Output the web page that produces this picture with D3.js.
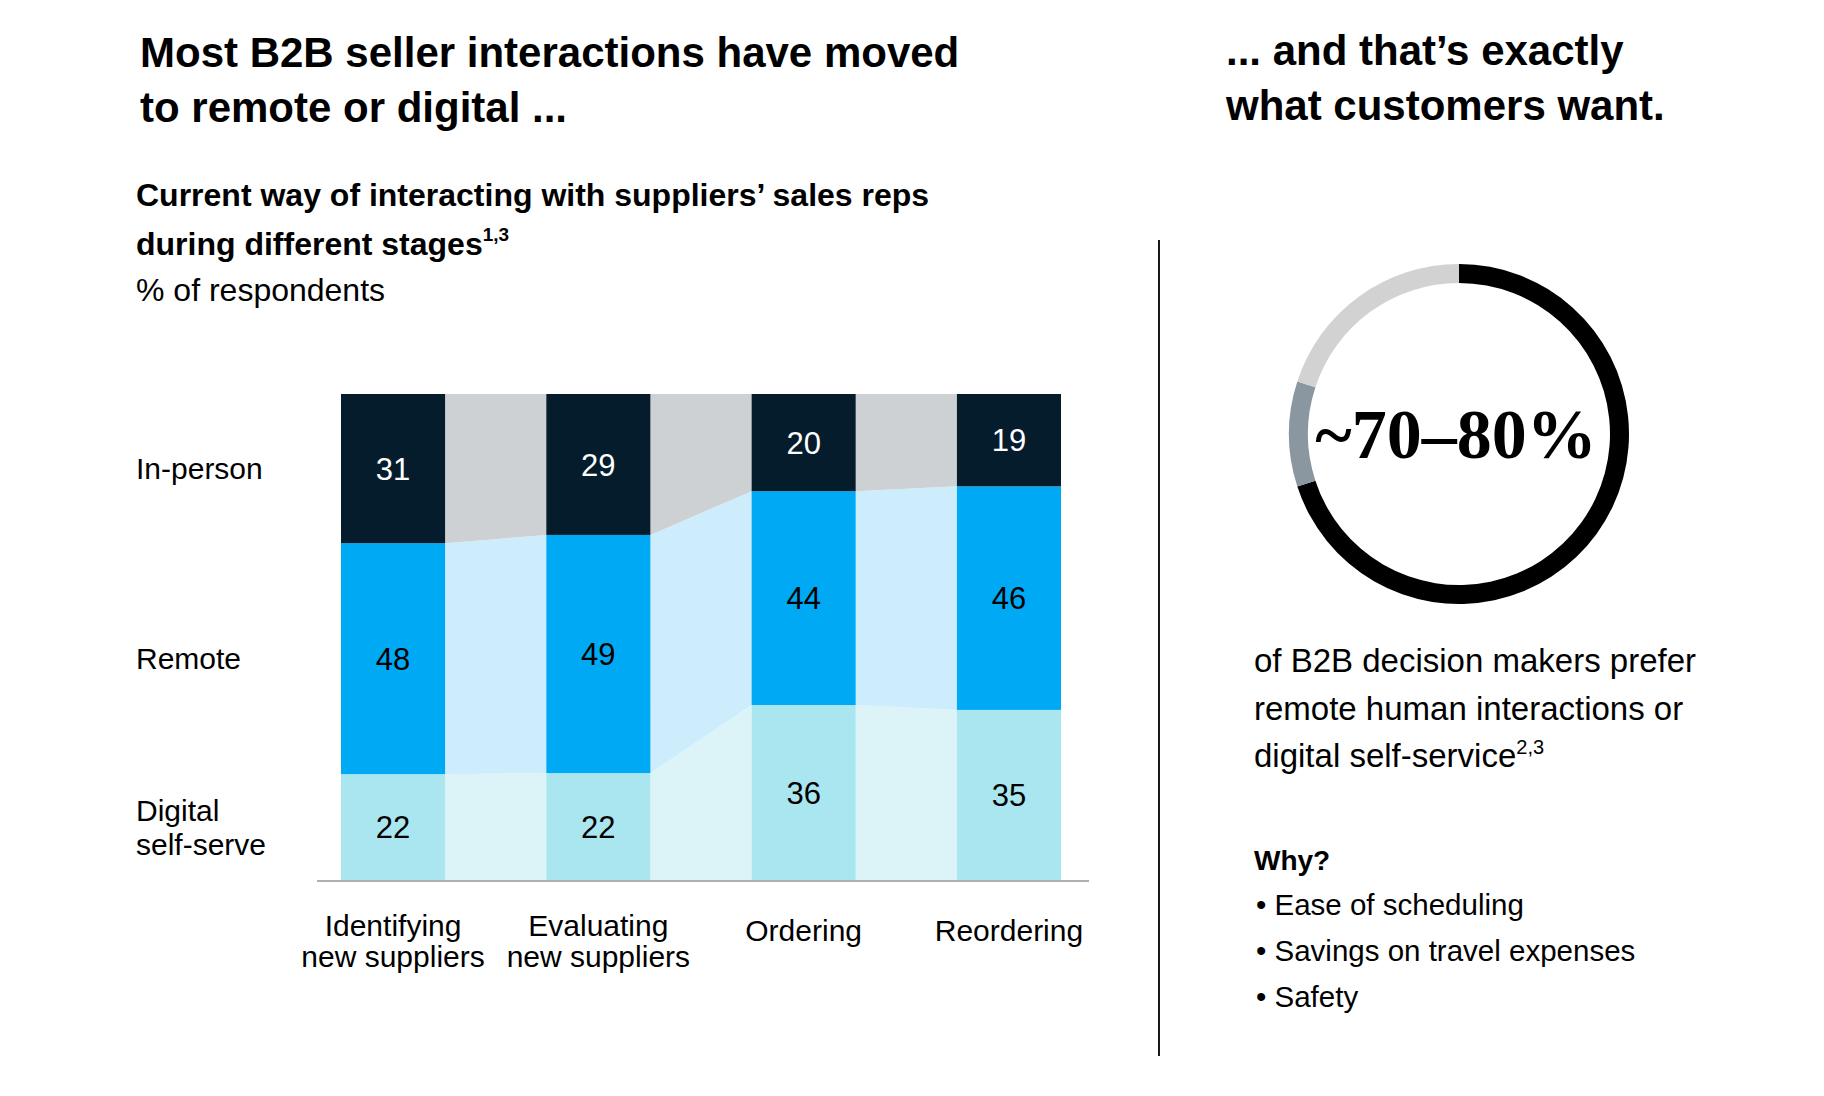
<!DOCTYPE html>
<html>
<head>
<meta charset="utf-8">
<script src="https://cdn.jsdelivr.net/npm/d3@7"></script>
<style>
  html, body { margin: 0; padding: 0; background: #fff; }
  svg { display: block; }
  text { font-family: "Liberation Sans", Arial, Helvetica, sans-serif; fill: #000; }
</style>
</head>
<body>
<svg id="chart" width="1824" height="1096"></svg>
<script>
// ---------------- DATA ----------------
const categories = ["Identifying new suppliers", "Evaluating new suppliers", "Ordering", "Reordering"];
const categoryLines = [["Identifying", "new suppliers"], ["Evaluating", "new suppliers"], ["Ordering"], ["Reordering"]];
const seriesNames = ["In-person", "Remote", "Digital self-serve"];
const seriesLabelLines = [["In-person"], ["Remote"], ["Digital", "self-serve"]];
const inPerson = [31, 29, 20, 19];
const remote = [48, 49, 44, 46];
const digitalSelfServe = [22, 22, 36, 35];

const donutNames = ["Prefer remote or digital (low)", "Range", "Other"];
const donutValues = [70, 10, 20];
const donutLabel = "~70–80%";

const titleLeft = ["Most B2B seller interactions have moved", "to remote or digital ..."];
const titleRight = ["... and that’s exactly", "what customers want."];
const subtitleLines = ["Current way of interacting with suppliers’ sales reps", "during different stages"];
const subtitleSup = "1,3";
const unitLabel = "% of respondents";
const bodyLines = ["of B2B decision makers prefer", "remote human interactions or", "digital self-service"];
const bodySup = "2,3";
const whyTitle = "Why?";
const whyItems = ["Ease of scheduling", "Savings on travel expenses", "Safety"];

// ---------------- STYLE ----------------
const barColors = { "In-person": "#051c2c", "Remote": "#00a9f4", "Digital self-serve": "#aae6f0" };
const linkColors = { "In-person": "#cdd1d4", "Remote": "#ceedfc", "Digital self-serve": "#dcf4f7" };
const labelColors = { "In-person": "#ffffff", "Remote": "#000000", "Digital self-serve": "#000000" };
const donutColors = ["#000000", "#8a96a0", "#d2d2d2"];

const svg = d3.select("#chart");

// ---------------- TITLES ----------------
const tl = svg.append("text").attr("x", 140).attr("y", 67)
  .style("font-size", "42px").style("font-weight", "700");
titleLeft.forEach((t, i) => tl.append("tspan").attr("x", 140).attr("y", 67 + i * 55).text(t));

const tr = svg.append("text").attr("x", 1226).attr("y", 65)
  .style("font-size", "42px").style("font-weight", "700");
titleRight.forEach((t, i) => tr.append("tspan").attr("x", 1226).attr("y", 65 + i * 55).text(t));

const st = svg.append("text").style("font-size", "32px").style("font-weight", "700");
st.append("tspan").attr("x", 136).attr("y", 206).text(subtitleLines[0]);
st.append("tspan").attr("x", 136).attr("y", 255).text(subtitleLines[1]);
st.append("tspan").attr("dy", -14).style("font-size", "19px").text(subtitleSup);

svg.append("text").attr("x", 136).attr("y", 301).style("font-size", "32px").text(unitLabel);

// ---------------- STACKED BAR ----------------
const rows = categories.map((c, i) => ({
  category: c,
  "In-person": inPerson[i],
  "Remote": remote[i],
  "Digital self-serve": digitalSelfServe[i]
}));

const stack = d3.stack()
  .keys(["Digital self-serve", "Remote", "In-person"])
  .offset(d3.stackOffsetExpand);
const layers = stack(rows);

const x = d3.scaleBand().domain(categories).range([341, 1061]).paddingInner(0.493).paddingOuter(0);
const y = d3.scaleLinear().domain([0, 1]).range([880, 394]);

// connectors
const linkArea = d3.area().x(d => d.x).y0(d => d.y0).y1(d => d.y1);
const gLinks = svg.append("g");
layers.forEach(layer => {
  for (let i = 0; i < categories.length - 1; i++) {
    const a = layer[i], b = layer[i + 1];
    const pts = [
      { x: x(categories[i]) + x.bandwidth(), y0: y(a[0]), y1: y(a[1]) },
      { x: x(categories[i + 1]), y0: y(b[0]), y1: y(b[1]) }
    ];
    gLinks.append("path").attr("d", linkArea(pts)).attr("fill", linkColors[layer.key]);
  }
});

// bars
const gBars = svg.append("g");
layers.forEach(layer => {
  gBars.selectAll(null).data(layer).enter().append("rect")
    .attr("x", d => x(d.data.category))
    .attr("y", d => y(d[1]))
    .attr("width", x.bandwidth())
    .attr("height", d => y(d[0]) - y(d[1]))
    .attr("fill", barColors[layer.key]);
  gBars.selectAll(null).data(layer).enter().append("text")
    .attr("x", d => x(d.data.category) + x.bandwidth() / 2)
    .attr("y", d => (y(d[0]) + y(d[1])) / 2)
    .attr("dy", "0.36em")
    .attr("text-anchor", "middle")
    .style("font-size", "31px")
    .style("fill", labelColors[layer.key])
    .text(d => d.data[layer.key]);
});

// baseline axis
svg.append("line").attr("x1", 317).attr("x2", 1089).attr("y1", 881).attr("y2", 881)
  .attr("stroke", "#b0b0b0").attr("stroke-width", 2);

// category labels
categoryLines.forEach((lines, i) => {
  const t = svg.append("text").attr("text-anchor", "middle").style("font-size", "30px");
  const cx = x(categories[i]) + x.bandwidth() / 2;
  const y0 = lines.length > 1 ? 936 : 941;
  lines.forEach((l, j) => t.append("tspan").attr("x", cx).attr("y", y0 + j * 31).text(l));
});

// series labels (aligned to first bar's segments)
const layerByKey = {};
layers.forEach(l => layerByKey[l.key] = l);
seriesNames.forEach((s, i) => {
  const seg = layerByKey[s][0];
  const mid = (y(seg[0]) + y(seg[1])) / 2;
  const lines = seriesLabelLines[i];
  const t = svg.append("text").style("font-size", "30px");
  const lh = 34;
  const first = mid - (lines.length - 1) * lh / 2;
  lines.forEach((l, j) => t.append("tspan").attr("x", 136).attr("y", first + j * lh).attr("dy", "0.36em").text(l));
});

// ---------------- DIVIDER ----------------
svg.append("line").attr("x1", 1159).attr("x2", 1159).attr("y1", 240).attr("y2", 1056)
  .attr("stroke", "#1a1a1a").attr("stroke-width", 2);

// ---------------- DONUT ----------------
const cx = 1459, cy = 434;
const pie = d3.pie().sort(null).value(d => d);
const arc = d3.arc().innerRadius(151).outerRadius(170);
const gD = svg.append("g").attr("transform", `translate(${cx},${cy})`);
gD.selectAll("path").data(pie(donutValues)).enter().append("path")
  .attr("d", arc).attr("fill", (d, i) => donutColors[i]);
svg.append("text").attr("x", cx - 3).attr("y", 458).attr("text-anchor", "middle")
  .style("font-family", "'Liberation Serif', 'Times New Roman', serif")
  .style("font-weight", "700")
  .style("font-size", "70px").text(donutLabel);

// ---------------- BODY TEXT ----------------
const bt = svg.append("text").style("font-size", "33px");
bodyLines.forEach((l, i) => bt.append("tspan").attr("x", 1254).attr("y", 672 + i * 47.5).text(l));
bt.append("tspan").attr("dy", -13).style("font-size", "20px").text(bodySup);

svg.append("text").attr("x", 1254).attr("y", 870).style("font-size", "28px").style("font-weight", "700").text(whyTitle);
whyItems.forEach((w, i) => {
  svg.append("text").attr("x", 1256).attr("y", 915 + i * 46).style("font-size", "29.5px").text("• " + w);
});
</script>
</body>
</html>
